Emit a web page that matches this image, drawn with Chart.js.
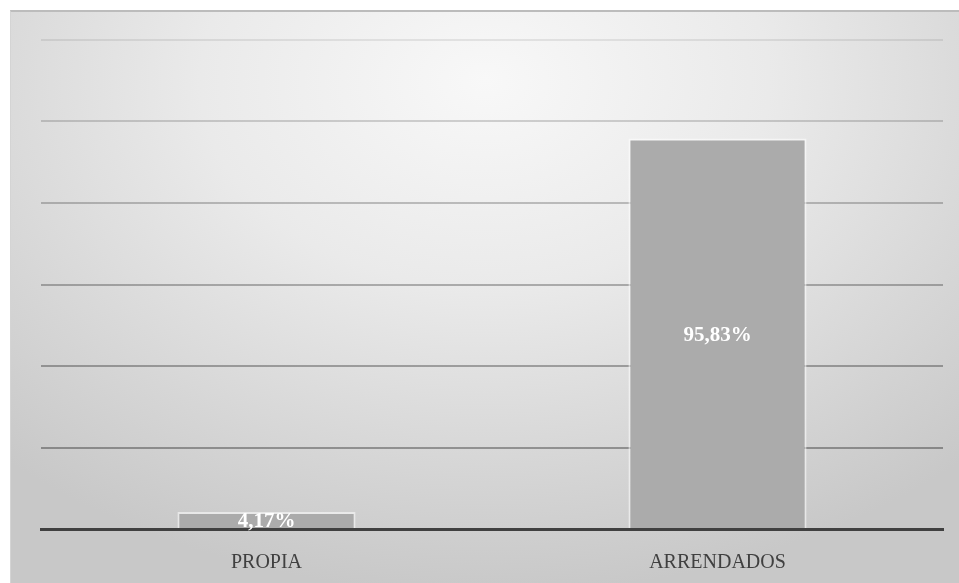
<!DOCTYPE html>
<html>
<head>
<meta charset="utf-8">
<script src="https://cdn.jsdelivr.net/npm/chart.js@4"></script>
<style>
  html, body { margin: 0; padding: 0; background: #fff; }
  #panel {
    position: absolute; left: 10px; top: 10px; width: 949px; height: 573px;
    box-sizing: border-box; border-top: 2px solid #bcbcbc; border-left: 1px solid #d4d4d4;
    background: radial-gradient(ellipse 75% 90% at 50% 12%, #f8f8f8 0%, #eaeaea 40%, #d6d6d6 75%, #c8c8c8 100%);
  }
  #barChart { display: block; }
</style>
</head>
<body>
<div id="panel"><canvas id="barChart" width="948" height="571"></canvas></div>
<script>
const categories = ["PROPIA", "ARRENDADOS"];
const shares = [4.17, 95.83];
const shareLabels = ["4,17%", "95,83%"];
const yTicks = [0, 20, 40, 60, 80, 100, 120];

// grid lines get darker toward the bottom, like the original
const gridAlpha = { 120: 0.08, 100: 0.16, 80: 0.22, 60: 0.27, 40: 0.3, 20: 0.33, 0: 0 };

const valueLabels = {
  id: 'valueLabels',
  afterDatasetsDraw(chart) {
    const ctx = chart.ctx;
    const meta = chart.getDatasetMeta(0);
    ctx.save();
    ctx.font = 'bold 21px "Liberation Serif", "Times New Roman", serif';
    ctx.fillStyle = '#ffffff';
    ctx.textAlign = 'center';
    ctx.textBaseline = 'middle';
    meta.data.forEach((bar, i) => {
      const cy = (bar.y + bar.base) / 2 + 2;
      ctx.fillText(shareLabels[i], bar.x, cy);
    });
    ctx.restore();
  }
};

const CHART = document.getElementById("barChart");
let barChart = new Chart(CHART, {
  type: 'bar',
  data: {
    labels: categories,
    datasets: [{
      data: shares,
      backgroundColor: "#ababab",
      borderColor: "rgba(255,255,255,0.55)",
      borderWidth: 2,
      barPercentage: 0.79,
      categoryPercentage: 0.5
    }]
  },
  options: {
    responsive: false,
    animation: false,
    layout: { padding: { left: 30, right: 16, top: 28, bottom: -14 } },
    plugins: { legend: { display: false }, tooltip: { enabled: false } },
    scales: {
      x: {
        z: 1,
        grid: { display: false, drawTicks: false },
        border: { display: true, color: '#404040', width: 3 },
        ticks: {
          padding: 22,
          color: '#404040',
          font: { family: '"Liberation Serif", "Times New Roman", serif', size: 20 }
        }
      },
      y: {
        min: 0,
        max: 120,
        afterBuildTicks: (axis) => { axis.ticks = yTicks.map(v => ({ value: v })); },
        ticks: { display: false },
        border: { display: false },
        grid: {
          drawTicks: false,
          lineWidth: 2,
          color: (c) => 'rgba(0,0,0,' + (gridAlpha[c.tick.value] ?? 0.2) + ')'
        }
      }
    }
  },
  plugins: [valueLabels]
});
</script>
</body>
</html>
